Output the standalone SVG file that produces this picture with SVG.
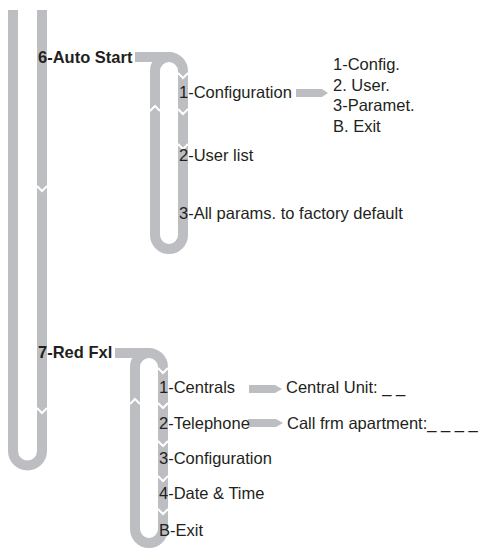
<svg xmlns="http://www.w3.org/2000/svg" width="481" height="550" viewBox="0 0 481 550">
<style>
.tube{fill:none;stroke:#bdbec2;stroke-width:10;stroke-linecap:butt}
.chev{fill:none;stroke:#ffffff;stroke-width:2}
.arrow{fill:#bdbec2}
.t{font-family:"Liberation Sans",Arial,sans-serif;font-size:16.5px;fill:#231f20}
.b{font-weight:bold}
</style>
<rect width="481" height="550" fill="#ffffff"/>
<g id="connectors">
  <path class="tube" d="M13,10 V451 A14.5,14.5 0 0 0 42,451 V10"/>
  <polyline class="chev" points="37,186 42,191 47,186"/>
  <polyline class="chev" points="37,408 42,413 47,408"/>
  <path class="tube" d="M135,57 H169"/>
  <path class="tube" d="M155,235 V71 A14,14 0 0 1 183,71 V235 A14,14 0 0 1 155,235 Z"/>
  <polyline class="chev" points="178,73 183,78 188,73"/>
  <polyline class="chev" points="178,109 183,114 188,109"/>
  <polyline class="chev" points="178,144 183,149 188,144"/>
  <polyline class="chev" points="150,111 155,106 160,111"/>
  <path class="tube" d="M115,353 H149"/>
  <path class="tube" d="M135,529 V367 A14,14 0 0 1 163,367 V529 A14,14 0 0 1 135,529 Z"/>
  <polyline class="chev" points="158,368 163,373 168,368"/>
  <polyline class="chev" points="158,403 163,408 168,403"/>
  <polyline class="chev" points="158,441 163,446 168,441"/>
  <polyline class="chev" points="158,476 163,481 168,476"/>
  <polyline class="chev" points="158,509 163,514 168,509"/>
  <polyline class="chev" points="130,404 135,399 140,404"/>
  <polygon class="arrow" points="296,89 322,89 328,93 322,97 296,97"/>
  <polygon class="arrow" points="249,385 275,385 282,389 275,393 249,393"/>
  <polygon class="arrow" points="248,419 276,419 283,423 276,427 248,427"/>
</g>
<g id="auto-start">
  <text class="t b" x="38" y="63">6-Auto Start</text>
</g>
<g id="auto-config">
  <text class="t" x="179" y="98">1-Configuration</text>
</g>
<g id="auto-config-sub">
  <text class="t" x="333" y="70">1-Config.</text>
  <text class="t" x="333" y="91">2. User.</text>
  <text class="t" x="333" y="111">3-Paramet.</text>
  <text class="t" x="333" y="132">B. Exit</text>
</g>
<g id="auto-userlist">
  <text class="t" x="179" y="161">2-User list</text>
</g>
<g id="auto-factory">
  <text class="t" x="179" y="219">3-All params. to factory default</text>
</g>
<g id="red-fxl">
  <text class="t b" x="38" y="358">7-Red Fxl</text>
</g>
<g id="red-centrals">
  <text class="t" x="159" y="393">1-Centrals</text>
</g>
<g id="red-central-unit">
  <text class="t" x="286" y="393">Central Unit: _ _</text>
</g>
<g id="red-telephone">
  <text class="t" x="159" y="428.5">2-Telephone</text>
</g>
<g id="red-call">
  <text class="t" x="287" y="428.5">Call frm apartment:_ _ _ _</text>
</g>
<g id="red-config">
  <text class="t" x="159" y="464">3-Configuration</text>
</g>
<g id="red-date">
  <text class="t" x="159" y="499">4-Date &amp; Time</text>
</g>
<g id="red-exit">
  <text class="t" x="159" y="536">B-Exit</text>
</g>
</svg>
